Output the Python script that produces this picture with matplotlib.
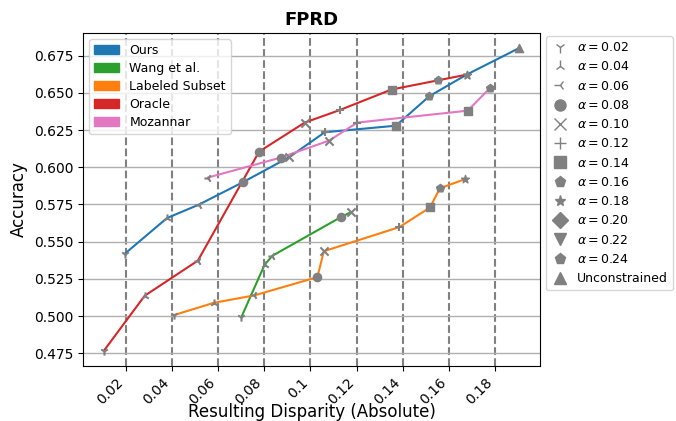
import matplotlib
matplotlib.use("Agg")
import matplotlib.pyplot as plt
from matplotlib.lines import Line2D
from matplotlib.patches import Patch

alphas = [0.02, 0.04, 0.06, 0.08, 0.10, 0.12, 0.14, 0.16, 0.18, 0.20, 0.22, 0.24]
alpha_markers = ['1', '2', '3', 'o', 'x', '+', 's', 'p', '*', 'D', 'v', 'p']
tick_labels = ['0.02', '0.04', '0.06', '0.08', '0.1', '0.12', '0.14', '0.16', '0.18']

# resulting disparity / accuracy per method, one entry per alpha (plus unconstrained for ours)
ours_disp = [0.0193, 0.0377, 0.0514, 0.0707, 0.0907, 0.1062, 0.1371, 0.1516, 0.1678, 0.1907]
ours_acc = [0.5418, 0.5659, 0.5748, 0.5900, 0.6067, 0.6235, 0.6279, 0.6477, 0.6622, 0.6801]
ours_mk = ['1', '2', '3', 'o', 'x', '+', 's', 'p', '*', '^']

wang_disp = [0.0700, 0.0801, 0.0835, 0.1132, 0.1174]
wang_acc = [0.4994, 0.5346, 0.5406, 0.5665, 0.5697]
wang_mk = ['1', '2', '3', 'o', 'x']

labeled_disp = [0.0407, 0.0581, 0.0755, 0.1030, 0.1058, 0.1386, 0.1519, 0.1562, 0.1671]
labeled_acc = [0.5007, 0.5090, 0.5139, 0.5262, 0.5436, 0.5598, 0.5730, 0.5859, 0.5920]
labeled_mk = ['1', '2', '3', 'o', 'x', '+', 's', 'p', '*']

oracle_disp = [0.0103, 0.0280, 0.0511, 0.0777, 0.0975, 0.1127, 0.1352, 0.1555, 0.1678]
oracle_acc = [0.4768, 0.5137, 0.5373, 0.6105, 0.6300, 0.6384, 0.6522, 0.6584, 0.6622]
oracle_mk = ['1', '2', '3', 'o', 'x', '+', 's', 'p', '*']

moz_disp = [0.0555, 0.0871, 0.1081, 0.1203, 0.1683, 0.1780]
moz_acc = [0.5931, 0.6065, 0.6179, 0.6300, 0.6380, 0.6533]
moz_mk = ['3', 'o', 'x', '+', 's', 'p']

methods = [
    ('Ours', ours_disp, ours_acc, ours_mk, 'tab:blue'),
    ('Wang et al.', wang_disp, wang_acc, wang_mk, 'tab:green'),
    ('Labeled Subset', labeled_disp, labeled_acc, labeled_mk, 'tab:orange'),
    ('Oracle', oracle_disp, oracle_acc, oracle_mk, 'tab:red'),
    ('Mozannar', moz_disp, moz_acc, moz_mk, 'tab:pink'),
]

fig = plt.figure(figsize=(6.76, 4.21), dpi=100)
ax = fig.add_axes([0.123, 0.131, 0.676, 0.791])

ax.grid(True, axis='y', color='#b0b0b0', linewidth=1.0)
for a in alphas[:9]:
    ax.axvline(a, color='gray', linestyle='--', linewidth=1.5, zorder=1)

for name, xs, ys, mks, col in methods:
    ax.plot(xs, ys, color=col, linewidth=1.5, zorder=2)
    for x, y, m in zip(xs, ys, mks):
        ax.scatter(x, y, marker=m, color='gray', s=35, zorder=3)

ax.set_xticks(alphas[:9])
ax.set_xticklabels(tick_labels, rotation=45, ha='right')
ax.set_xlabel('Resulting Disparity (Absolute)', fontsize=12, labelpad=-3)
ax.set_ylabel('Accuracy', fontsize=12)
ax.set_title('FPRD', fontweight='bold', fontsize=13)

method_handles = [Patch(color=col, label=name) for name, _, _, _, col in methods]
leg1 = ax.legend(handles=method_handles, loc='upper left', fontsize=9,
                 labelspacing=0.4)
ax.add_artist(leg1)

marker_handles = [Line2D([], [], marker=m, color='gray', linestyle='None', markersize=8,
                         label=r'$\alpha=%.2f$' % a)
                  for a, m in zip(alphas, alpha_markers)]
marker_handles.append(Line2D([], [], marker='^', color='gray', linestyle='None',
                             markersize=8, label='Unconstrained'))
ax.legend(handles=marker_handles, loc='upper left', bbox_to_anchor=(1.012, 0.99),
          borderaxespad=0, fontsize=9, labelspacing=0.5, handlelength=1.5,
          handletextpad=0.6, borderpad=0.4)

fig.savefig('out.png', dpi=100)
